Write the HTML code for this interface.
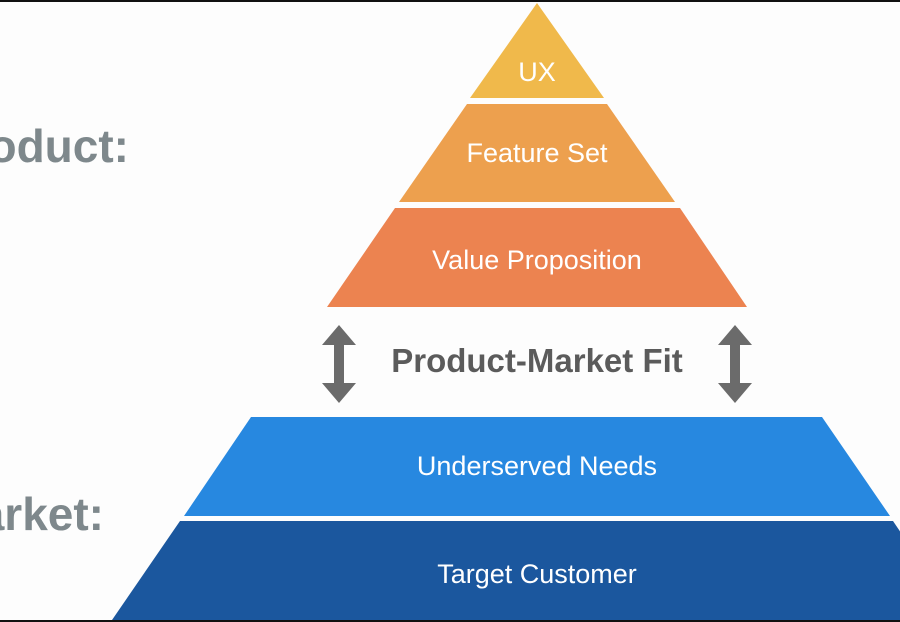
<!DOCTYPE html>
<html><head><style>html,body{margin:0;padding:0;background:#fdfdfd}svg{display:block}</style></head>
<body>
<svg width="900" height="622" viewBox="0 0 900 622" xmlns="http://www.w3.org/2000/svg" font-family="Liberation Sans, sans-serif">
<rect width="900" height="622" fill="#fdfdfd"/>
<rect x="0" y="0" width="900" height="2" fill="#111"/>
<polygon points="537,3 604,98 470,98" fill="#f0b94b"/>
<polygon points="467,104 607,104 675,202 399,202" fill="#eda04e"/>
<polygon points="395,208 680,208 747,307 327,307" fill="#ec8350"/>
<polygon points="251,417 822,417 890,516 184,516" fill="#2788e0"/>
<polygon points="180,521 893,521 960,620 112,620" fill="#1b579e"/>
<rect x="0" y="620" width="900" height="2" fill="#111"/>
<g fill="#fff" font-size="27" text-anchor="middle">
<text x="537" y="81">UX</text>
<text x="537" y="162">Feature Set</text>
<text x="537" y="269">Value Proposition</text>
<text x="537" y="475">Underserved Needs</text>
<text x="537" y="583">Target Customer</text>
</g>
<text x="537" y="372" font-size="33" font-weight="bold" fill="#5b5b5b" text-anchor="middle">Product-Market Fit</text>
<g fill="#6b6b6b">
<polygon points="339,325 356,345 344,345 344,383 356,383 339,403 322,383 334,383 334,345 322,345"/>
<polygon points="735,325 752,345 740,345 740,383 752,383 735,403 718,383 730,383 730,345 718,345"/>
</g>
<g fill="#7e888c" font-size="46" font-weight="bold" text-anchor="end">
<text x="129" y="162">Product:</text>
<text x="104" y="530">Market:</text>
</g>
</svg>
</body></html>
